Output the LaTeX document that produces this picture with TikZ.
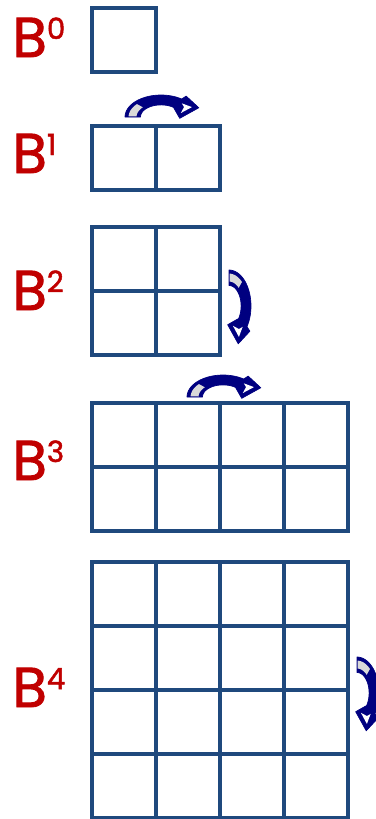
\documentclass[tikz,border=0pt]{standalone}
\usepackage{fontspec}
\usepackage{tikz}
\newfontfamily\labelfont[FakeBold=1.6]{Poppins}
\definecolor{gridblue}{HTML}{1F497D}
\definecolor{labelred}{HTML}{C00000}
\definecolor{arrownavy}{HTML}{000080}
% superscript exponent of a label
\newcommand\expo[1]{\raisebox{8pt}{\fontsize{13}{13}\selectfont #1}}
% grid of square cells: x0, y0, columns, rows (pixel units)
\newcommand\cellgrid[4]{%
  \foreach \c in {1,...,#3} {
    \foreach \r in {1,...,#4} {
      \draw[gridline] ({#1+(\c-1)*64},{#2+(\r-1)*64}) rectangle ++(64,64);
    }
  }%
}
% bent block arrow in local units (tail on the left, head on the right)
\newcommand\bentarrow{%
  \filldraw[bentbody] plot[domain=180:55,samples=30] ({cos(\x)},{sin(\x)})
    -- (0.70,0.95) -- (1.05,0.42) -- (0.52,-0.06) -- (0.36,0.40)
    -- plot[domain=48:180,samples=30] ({0.57*cos(\x)},{0.55*sin(\x)}) -- cycle;
  \fill[gray!30] plot[domain=178:138,samples=12] ({0.9*cos(\x)},{0.88*sin(\x)})
    -- plot[domain=138:178,samples=12] ({0.68*cos(\x)},{0.66*sin(\x)}) -- cycle;
  \fill[white] (0.58,0.62) -- (0.86,0.45) -- (0.55,0.18) -- (0.64,0.45) -- cycle;
}

\begin{document}
\begin{tikzpicture}[
  x=0.015625cm, y=-0.015625cm,
  gridline/.style={draw=gridblue, line width=1.78pt},
  bentbody/.style={fill=arrownavy, draw=arrownavy, line width=0.3pt, line join=round},
  blabel/.style={anchor=base west, inner sep=0pt, text=labelred, font=\labelfont\fontsize{25}{25}\selectfont},
]
\useasboundingbox (0,0) rectangle (376,819);

% labels
\node[blabel] (b0) at (12,57)  {B\expo{0}};
\node[blabel] (b1) at (12,173) {B\expo{1}};
\node[blabel] (b2) at (12,310) {B\expo{2}};
\node[blabel] (b3) at (12,480) {B\expo{3}};
\node[blabel] (b4) at (12,707) {B\expo{4}};

% grids
\cellgrid{92}{8}{1}{1}
\cellgrid{92}{126}{2}{1}
\cellgrid{92}{227}{2}{2}
\cellgrid{92}{403}{4}{2}
\cellgrid{92}{562}{4}{4}

% arrows
\begin{scope}[shift={(161,117)}, x=0.5625cm, y=0.34375cm]
  \bentarrow
\end{scope}
\begin{scope}[shift={(223,397)}, x=0.5625cm, y=0.34375cm]
  \bentarrow
\end{scope}
\begin{scope}[shift={(229,306)}, rotate=-90, x=0.5625cm, y=0.34375cm]
  \bentarrow
\end{scope}
\begin{scope}[shift={(357,693)}, rotate=-90, x=0.5625cm, y=0.34375cm]
  \bentarrow
\end{scope}
\end{tikzpicture}
\end{document}
